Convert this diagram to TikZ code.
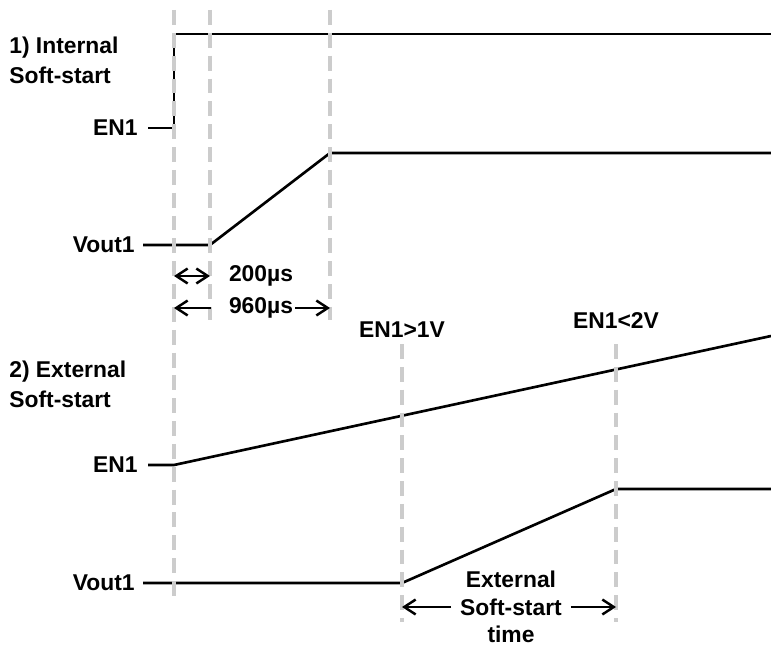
\documentclass[tikz,border=0pt]{standalone}
\usepackage{fontspec}
\setmainfont{Liberation Sans}
\usetikzlibrary{arrows.meta}

\begin{document}
\begin{tikzpicture}[x=0.02cm,y=-0.02cm,
    sig/.style={line width=1.5pt},
    grid/.style={gray!40,line width=1.8pt,dash pattern=on 8.5pt off 4.5pt},
    dim/.style={line width=1.4pt,->,>={Straight Barb[length=6.5pt,width=8.5pt]}},
    lbl/.style={font=\bfseries\fontsize{13}{17}\selectfont,inner sep=0pt}]
    \useasboundingbox (0,0) rectangle (771,645);

    % 1) Internal soft-start
    \coordinate (A) at (148,128);
    \coordinate (B) at (174,128);
    \coordinate (C) at (174,34);
    \coordinate (D) at (771,34);
    \coordinate (E) at (143,245);
    \coordinate (F) at (210,245);
    \coordinate (G) at (330,153);
    \coordinate (H) at (771,153);

    % 2) External soft-start
    \coordinate (I) at (148,465);
    \coordinate (J) at (174,465);
    \coordinate (K) at (771,336);
    \coordinate (L) at (143,583);
    \coordinate (M) at (402,583);
    \coordinate (N) at (616,489);
    \coordinate (O) at (771,489);

    % waveforms
    \draw[sig] (A) -- (B) -- (C) -- (D);
    \draw[sig] (E) -- (F) -- (G) -- (H);
    \draw[sig] (I) -- (J) -- (K);
    \draw[sig] (L) -- (M) -- (N) -- (O);

    % gray guide lines
    \draw[grid] (174,10) -- (174,598);
    \draw[grid] (210,10) -- (210,320);
    \draw[grid] (330,10) -- (330,320);
    \draw[grid] (402,344) -- (402,622);
    \draw[grid] (616,344) -- (616,622);

    % labels
    \node[lbl,anchor=west,align=left] (int) at (9,60) {1) Internal\\Soft-start};
    \node[lbl,anchor=east] (en1a) at (138,128) {EN1};
    \node[lbl,anchor=east] (vout1a) at (135,245) {Vout1};
    \node[lbl,anchor=west,align=left] (ext) at (9,384) {2) External\\Soft-start};
    \node[lbl,anchor=east] (en1b) at (138,465) {EN1};
    \node[lbl,anchor=east] (vout1b) at (135,583) {Vout1};
    \node[lbl] (gt) at (402,330) {EN1>1V};
    \node[lbl] (lt) at (616,321) {EN1<2V};

    % timing
    \coordinate (P1) at (174,276);
    \coordinate (P2) at (210,276);
    \draw[dim,<->] (P1) -- (P2);
    \node[lbl] (t200) at (261,276) {200µs};

    \coordinate (Q1) at (174,308);
    \coordinate (Q2) at (330,308);
    \node[lbl] (t960) at (261,308) {960µs};
    \draw[dim] ([xshift=-10pt]t960.west) -- (Q1);
    \draw[dim] ([xshift=1pt]t960.east) -- (Q2);

    \coordinate (R1) at (402,607);
    \coordinate (R2) at (616,607);
    \node[lbl,align=center,font=\bfseries\fontsize{13}{15.5}\selectfont] (tss) at (511,607) {External\\Soft-start\\time};
    \draw[dim] ([xshift=-5pt]tss.west) -- (R1);
    \draw[dim] ([xshift=5pt]tss.east) -- (R2);

\end{tikzpicture}
\end{document}
